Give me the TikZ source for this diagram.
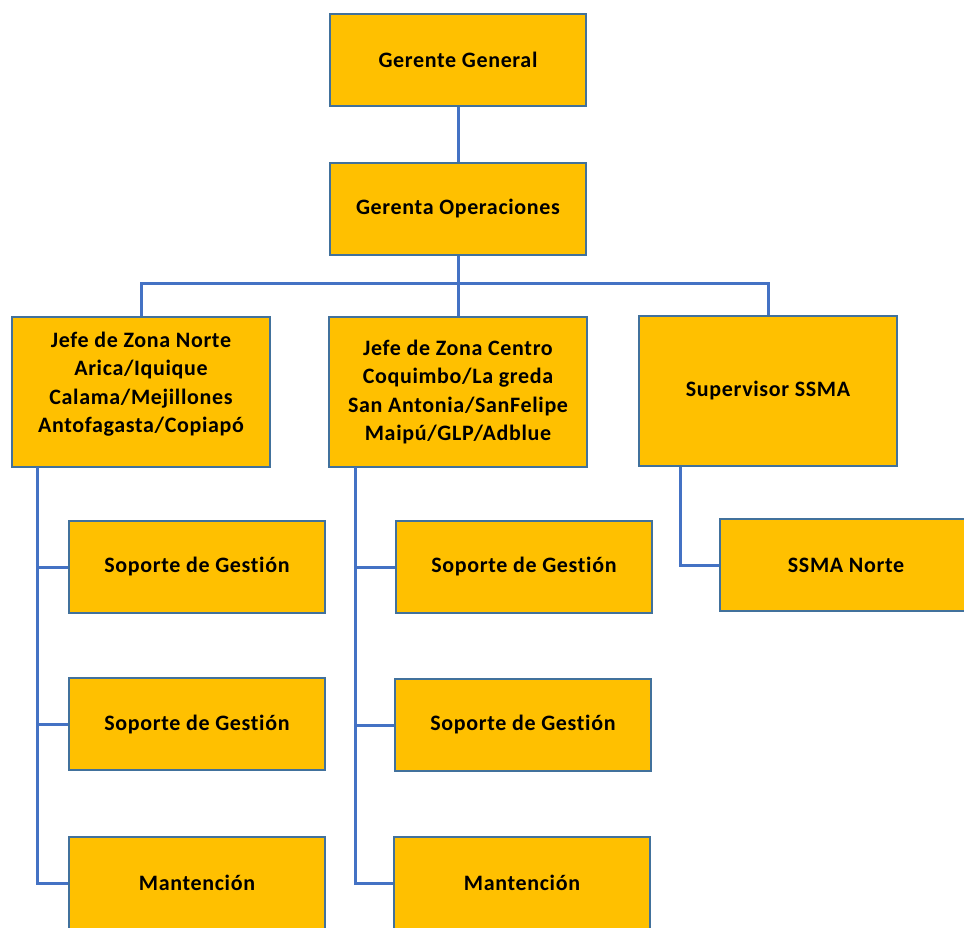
\documentclass[tikz,border=0pt]{standalone}
\usepackage{fontspec}
\setmainfont[Ligatures=NoCommon, LetterSpace=3]{Carlito}
\usetikzlibrary{positioning, calc}
\definecolor{cgold}{HTML}{FFC000}
\definecolor{cedge}{HTML}{41719C}
\definecolor{clink}{HTML}{4472C4}
\tikzset{
  every picture/.style={font=\bfseries\fontsize{22}{28.5}\selectfont, line width=1.5pt},
  box/.style={draw=cedge, fill=cgold, align=center, inner sep=4pt, minimum width=256, minimum height=92},
  tallbox/.style={box, minimum width=258, minimum height=150},
  link/.style={draw=clink, line width=3pt},
}

\begin{document}
\begin{tikzpicture}[x=1pt, y=-1pt]
  \clip (0,0) rectangle (964,927);
  \fill[white] (0,0) rectangle (964,927);

  \node[box] (gg) at (458,60) {Gerente General};
  \node[box] (go) at (458,209) {Gerenta Operaciones};

  \node[tallbox, text depth=19pt] (norte) at (141,392) {Jefe de Zona Norte\\ Arica/Iquique\\ Calama/Mejillones\\ Antofagasta/Copiapó};
  \node[tallbox] (centro) at (458,392) {Jefe de Zona Centro\\ Coquimbo/La greda\\ San Antonia/SanFelipe\\ Maipú/GLP/Adblue};
  \node[tallbox] (sup) at (768,391) {Supervisor SSMA};

  \node[box] (sn1) at (197,567) {Soporte de Gestión};
  \node[box] (sn2) at (197,724) {Soporte de Gestión};
  \node[box] (mn) at (197,883) {Mantención};

  \node[box] (sc1) at (524,567) {Soporte de Gestión};
  \node[box] (sc2) at (523,725) {Soporte de Gestión};
  \node[box] (mc) at (522,883) {Mantención};

  \node[box, minimum width=252] (ssn) at (846,565) {SSMA Norte};

  \coordinate (bus) at (458,283);
  \coordinate (tn) at (37,467);
  \coordinate (tc) at (355,467);
  \coordinate (ts) at (680,467);

  \draw[link] (gg) -- (go);
  \draw[link] (go) -- (centro);
  \draw[link] (norte.north) |- (bus) -| (sup.north);
  \foreach \b in {sn1, sn2, mn} \draw[link] (tn) |- (\b.west);
  \foreach \b in {sc1, sc2, mc} \draw[link] (tc) |- (\b.west);
  \draw[link] (ts) |- (ssn.west);
\end{tikzpicture}
\end{document}
